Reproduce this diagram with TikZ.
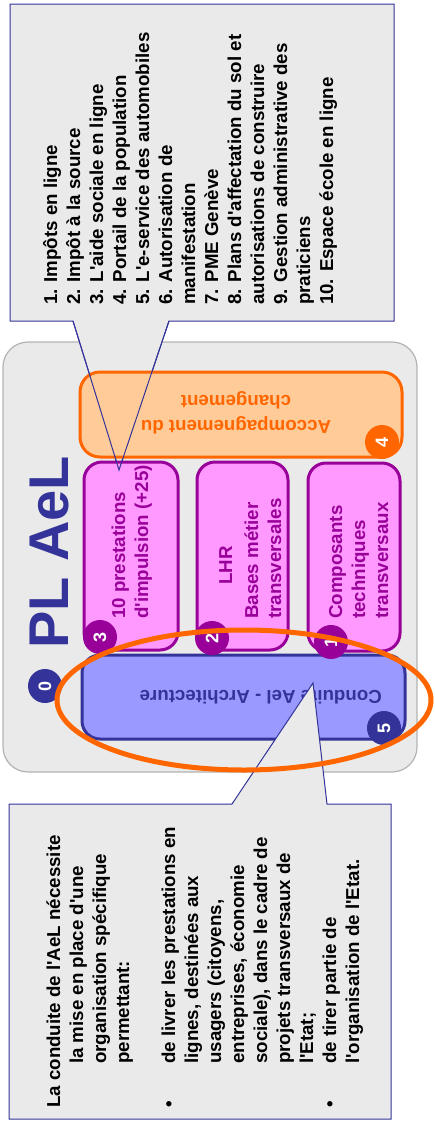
\documentclass[tikz,border=0pt]{standalone}
\usepackage{fontspec}
\setmainfont{Liberation Sans}[Ligatures=TeXOff]
\usetikzlibrary{shapes.geometric}
\definecolor{bgfill}{HTML}{EAEAEA}
\definecolor{bgline}{HTML}{B3B3B3}
\definecolor{dblue}{HTML}{333399}
\definecolor{lblue}{HTML}{9999FF}
\definecolor{orng}{HTML}{FF6600}
\definecolor{lorng}{HTML}{FFCC99}
\definecolor{purp}{HTML}{990099}
\definecolor{pink}{HTML}{FF99FF}
\begin{document}
\begin{tikzpicture}[x=1pt,y=-1pt,
  txt/.style={inner sep=0pt, font=\fontsize{18.7}{23}\selectfont\bfseries, anchor=base west},
  pinkbox/.style={draw=purp, fill=pink, line width=3pt, rounded corners=18pt, inner sep=0pt, minimum height=188pt},
  badge/.style={circle, inner sep=0pt, minimum size=34pt, text=white, rotate=90, font=\fontsize{18}{18}\selectfont\bfseries},
  callout/.style={fill=bgfill, draw=dblue, line width=1pt, line join=miter}
]
\useasboundingbox (0,0) rectangle (434,1130);
% background panel
\node[draw=bgline, fill=bgfill, line width=1.2pt, rounded corners=25pt, minimum width=414pt, minimum height=430pt, inner sep=0pt] (bg) at (210,557) {};
% top callout
\coordinate (tipA) at (119,470);
\coordinate (tA1) at (73,321);
\coordinate (tA2) at (169,321);
\path[callout] (10,4) -- (394,4) -- (394,321) -- (tA2) -- (tipA) -- (tA1) -- (10,321) -- cycle;
% boxes
\node[draw=orng, fill=lorng, line width=3pt, rounded corners=20pt, minimum width=322pt, minimum height=85pt, inner sep=0pt] (acc) at (241,414.5) {};
\node[pinkbox, minimum width=94pt] (p3) at (131,556) {};
\node[pinkbox, minimum width=91pt] (p2) at (242.5,556) {};
\node[pinkbox, minimum width=92pt] (p1) at (354,557) {};
\node[draw=dblue, fill=lblue, line width=3pt, rounded corners=18pt, minimum width=323pt, minimum height=84pt, inner sep=0pt] (arch) at (243.5,697) {};
% pointer lines of the top callout over the boxes
\draw[dblue, line width=1pt] (tA1) -- (tipA) -- (tA2);
% texts
\node[txt, rotate=90] (list) at (57,305) {\vtop{%
\hbox{1. Impôts en ligne}
\hbox{2. Impôt à la source}
\hbox{3. L'aide sociale en ligne}
\hbox{4. Portail de la population}
\hbox{5. L'e-service des automobiles}
\hbox{6. Autorisation de}
\hbox{manifestation}
\hbox{7. PME Genève}
\hbox{8. Plans d'affectation du sol et}
\hbox{autorisations de construire}
\hbox{9. Gestion administrative des}
\hbox{praticiens}
\hbox{10. Espace école en ligne}}};
\node[txt, rotate=90, text=dblue, font=\fontsize{56}{56}\selectfont\bfseries] (title) at (68,649) {PL AeL};
\node[txt, rotate=180, anchor=base, text=orng] (acctext) at (236,420) {\vtop{%
\hbox to 0pt{\hss Accompagnement du\hss}\vskip2pt
\hbox to 0pt{\hss changement\hss}}};
\node[txt, rotate=90, text=purp] (p3text) at (125,619) {\vtop{%
\hbox{10 prestations}
\hbox{d'impulsion (+25)}}};
\node[txt, rotate=90, text=purp] (p2text) at (232,619) {\vtop{%
\hbox{\kern34pt LHR}\vskip3pt
\hbox{Bases métier}
\hbox{transversales}}};
\node[txt, rotate=90, text=purp] (p1text) at (342,619) {\vtop{%
\hbox{Composants}
\hbox{techniques}
\hbox{transversaux}}};
\node[txt, rotate=180, text=dblue] (archtext) at (382,690) {Conduite Ael - Architecture};
% badges
\node[badge, fill=dblue] (b0) at (45,686) {0};
\node[badge, fill=purp] (b1) at (331,642) {1};
\node[badge, fill=purp] (b2) at (212,638) {2};
\node[badge, fill=purp] (b3) at (100,637) {3};
\node[badge, fill=orng] (b4) at (382,442) {4};
\node[badge, fill=dblue] (b5) at (384,728) {5};
% bottom callout
\coordinate (tipB) at (313,683);
\coordinate (tB1) at (232,804);
\coordinate (tB2) at (327,804);
\path[callout] (9,804) -- (tB1) -- (tipB) -- (tB2) -- (391,804) -- (391,1119) -- (9,1119) -- cycle;
\node[txt, rotate=90] (note) at (60,1108) {\vtop{%
\hbox{La conduite de l'AeL nécessite}
\hbox{\kern44pt la mise en place d'une}
\hbox{\kern44pt organisation spécifique}
\hbox{\kern44pt permettant:}
\hbox{}
\hbox{\hbox to 44pt{•\hfil}de livrer les prestations en}
\hbox{\kern44pt lignes, destinées aux}
\hbox{\kern44pt usagers (citoyens,}
\hbox{\kern44pt entreprises, économie}
\hbox{\kern44pt sociale), dans le cadre de}
\hbox{\kern44pt projets transversaux de}
\hbox{\kern44pt l'Etat;}
\hbox{\hbox to 44pt{•\hfil}de tirer partie de}
\hbox{\kern44pt l'organisation de l'Etat.}}};
% orange ring
\node[draw=orng, line width=5pt, ellipse, minimum width=374pt, minimum height=140pt, inner sep=0pt] (ring) at (244,700) {};
\end{tikzpicture}
\end{document}
